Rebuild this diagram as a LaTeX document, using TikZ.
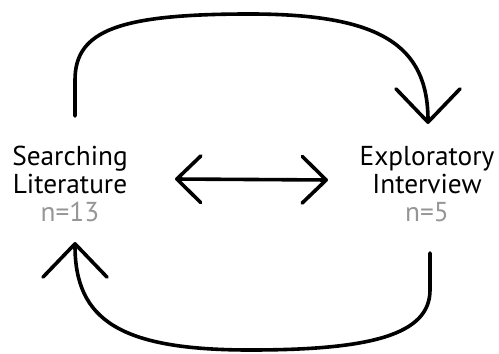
\documentclass[tikz,border=0pt]{standalone}
\usepackage{fontspec}
\setmainfont{PT Sans}
\usetikzlibrary{arrows.meta}
\definecolor{countgray}{RGB}{150,150,150}
\tikzset{every picture/.style={line width=0.75pt}}
\tikzset{
  loopline/.style={line width=2.7pt, line cap=round, line join=round},
  barbtip/.style={-{Straight Barb[length=25pt, width=48pt, line width=2.7pt, round]}},
  midtip/.style={{Straight Barb[length=18pt, width=35pt, line width=2.7pt, round]}-{Straight Barb[length=18pt, width=35pt, line width=2.7pt, round]}},
  stage/.style={align=center, inner sep=0.75pt, font=\fontsize{20.5}{21}\selectfont},
}

\begin{document}
\begin{tikzpicture}[x=0.75pt,y=0.75pt,yscale=-1,xscale=1]
\useasboundingbox (0,0) rectangle (499,353);

% Text Node
\node [stage] (lit) at (70,184) {Searching\\Literature\\\textcolor{countgray}{n=13}};
% Text Node
\node [stage] (int) at (427,184) {Exploratory\\Interview\\\textcolor{countgray}{n=5}};

% ends of the loops and of the middle arrow
\coordinate (litTop) at (75,116);
\coordinate (intTop) at (428,124);
\coordinate (intBot) at (430,253);
\coordinate (litBot) at (75,242);
\coordinate (midL) at (175,179);
\coordinate (midR) at (328,180);

%Curve Lines
\draw [loopline, barbtip] (litTop) -- (75,80) .. controls (75,30) and (120,14) .. (250,14) .. controls (380,14) and (428,45) .. (intTop);
%Curve Lines
\draw [loopline, barbtip] (intBot) -- (430,290) .. controls (430,335) and (370,350) .. (250,350) .. controls (120,350) and (75,320) .. (litBot);
%Straight Lines
\draw [loopline, midtip] (midL) -- (midR);

\end{tikzpicture}
\end{document}
